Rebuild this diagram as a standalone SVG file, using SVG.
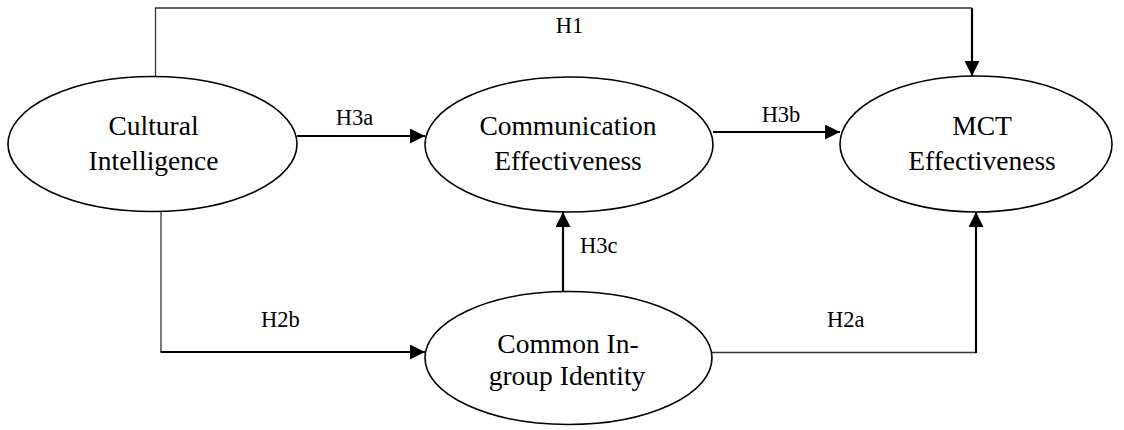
<svg xmlns="http://www.w3.org/2000/svg" width="1124" height="430" viewBox="0 0 1124 430">
<style>
.node{fill:#fff;stroke:#000;stroke-width:1.6}
.nt{font-family:"Liberation Serif","Times New Roman",serif;font-size:27.5px;fill:#000;text-anchor:middle}
.lb{font-family:"Liberation Serif","Times New Roman",serif;font-size:22.5px;fill:#000}
.thin{fill:none;stroke:#333;stroke-width:1.3}
.thick{fill:none;stroke:#000;stroke-width:2.2}
</style>
<defs>
<marker id="ah" markerUnits="userSpaceOnUse" markerWidth="16" markerHeight="16" refX="15" refY="7.5" orient="auto">
<path d="M0,0 L15,7.5 L0,15 z" fill="#000"/>
</marker>
</defs>
<rect width="1124" height="430" fill="#fff"/>
<g id="connectors">
<polyline class="thin" points="155.5,77 155.5,8 972,8"/>
<line class="thick" x1="972" y1="8" x2="972" y2="76" marker-end="url(#ah)"/>
<line class="thick" x1="297" y1="136" x2="425" y2="136" marker-end="url(#ah)"/>
<line class="thick" x1="713" y1="132" x2="840" y2="132" marker-end="url(#ah)"/>
<line class="thick" x1="563" y1="291" x2="563" y2="212" marker-end="url(#ah)"/>
<polyline class="thin" points="161,212 161,352"/>
<line class="thick" x1="160.5" y1="352" x2="425" y2="352" marker-end="url(#ah)"/>
<line class="thin" x1="712" y1="352.5" x2="976" y2="352.5"/>
<line class="thick" x1="976" y1="353" x2="976" y2="212" marker-end="url(#ah)"/>
<text class="lb" x="569.5" y="33" text-anchor="middle">H1</text>
<text class="lb" x="354.5" y="125" text-anchor="middle">H3a</text>
<text class="lb" x="781" y="122" text-anchor="middle">H3b</text>
<text class="lb" x="580" y="253">H3c</text>
<text class="lb" x="261" y="327">H2b</text>
<text class="lb" x="827" y="327">H2a</text>
</g>
<g id="cultural-intelligence">
<ellipse class="node" cx="152.5" cy="144" rx="144.5" ry="67.5"/>
<text class="nt" x="153.5" y="135">Cultural</text>
<text class="nt" x="153.5" y="170">Intelligence</text>
</g>
<g id="communication-effectiveness">
<ellipse class="node" cx="569" cy="144.5" rx="144" ry="67.5"/>
<text class="nt" x="568" y="135">Communication</text>
<text class="nt" x="568" y="170">Effectiveness</text>
</g>
<g id="mct-effectiveness">
<ellipse class="node" cx="976" cy="144" rx="136" ry="68"/>
<text class="nt" x="982" y="135">MCT</text>
<text class="nt" x="982" y="170">Effectiveness</text>
</g>
<g id="common-ingroup-identity">
<ellipse class="node" cx="568.5" cy="358" rx="143.5" ry="66.5"/>
<text class="nt" x="568" y="353">Common In-</text>
<text class="nt" x="567" y="385">group Identity</text>
</g>
</svg>
